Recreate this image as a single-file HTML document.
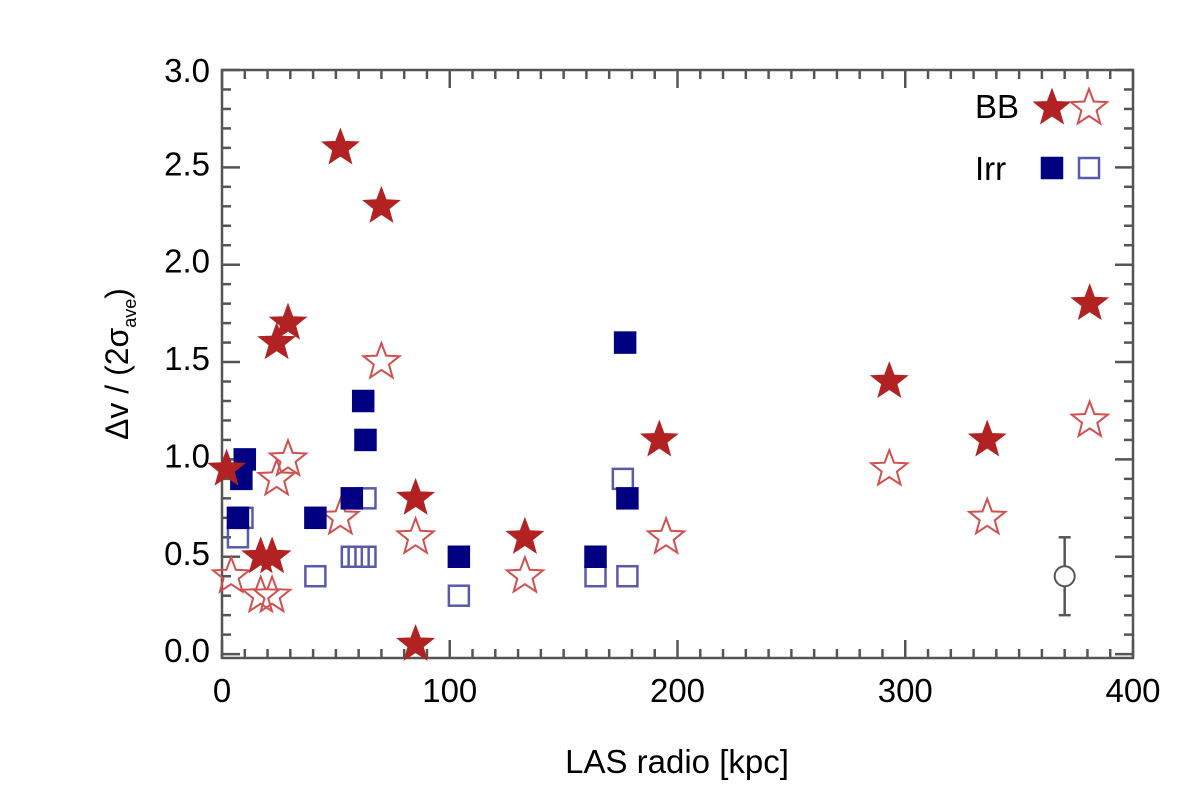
<!DOCTYPE html>
<html><head><meta charset="utf-8"><style>
body{margin:0;background:#fff}
svg text{font-family:"Liberation Sans",sans-serif;fill:#000}
</style></head><body>
<svg id="chart" width="1200" height="804" xmlns="http://www.w3.org/2000/svg">
<g id="axes"></g>
<g id="marks"></g>
<text x="677" y="773" font-size="33" text-anchor="middle">LAS radio [kpc]</text>
<text transform="translate(128,364) rotate(-90)" font-size="32" text-anchor="middle">Δv / (2σ<tspan font-size="18" dy="8">ave</tspan><tspan dy="-8">)</tspan></text>
<g>
<text x="975" y="118" font-size="33">BB</text>
<text x="975" y="180" font-size="33">Irr</text>
</g>
</svg>
<script>
const bbFilledX=[52,70,24,29,2,17,22,85,85,133,192,293,336,381];
const bbFilledY=[2.6,2.3,1.6,1.7,0.95,0.5,0.5,0.8,0.05,0.6,1.1,1.4,1.1,1.8];
const bbOpenX=[70,29,24,4,17,22,52,85,133,195,293,336,381];
const bbOpenY=[1.5,1.0,0.9,0.4,0.3,0.3,0.7,0.6,0.4,0.6,0.95,0.7,1.2];
const irrFilledX=[10,8.5,7,41,57,62,63,104,164,177,178];
const irrFilledY=[1.0,0.9,0.7,0.7,0.8,1.3,1.1,0.5,0.5,1.6,0.8];
const irrOpenX=[9,7,41,57,60,63,63,104,164,176,178];
const irrOpenY=[0.7,0.6,0.4,0.5,0.5,0.5,0.8,0.3,0.4,0.9,0.4];
const errX=[370];const errY=[0.4];const errLo=[0.2];const errHi=[0.6];
const xTicks=[0,100,200,300,400];
const yTicks=[0,0.5,1,1.5,2,2.5,3];
const yTickLabels=["0.0","0.5","1.0","1.5","2.0","2.5","3.0"];

const L=222,R=1133,T=70,B=658,xMin=0,xMax=400,yMin=-0.02,yMax=3.0;
const sx=v=>L+(v-xMin)/(xMax-xMin)*(R-L);
const sy=v=>B-(v-yMin)/(yMax-yMin)*(B-T);
const NS="http://www.w3.org/2000/svg";
function mk(tag,attrs,parent){const e=document.createElementNS(NS,tag);for(const k in attrs)e.setAttribute(k,attrs[k]);parent.appendChild(e);return e;}
const axes=document.getElementById('axes'),marks=document.getElementById('marks');
const frame=mk('rect',{x:L,y:T,width:R-L,height:B-T,fill:'none',stroke:'#555','stroke-width':2.5},axes);


for(let v=0;v<=400;v+=10){const maj=v%100===0,len=maj?18:9,x=sx(v);
 mk('line',{x1:x,y1:B,x2:x,y2:B-len,stroke:'#555','stroke-width':2.5},axes);
 mk('line',{x1:x,y1:T,x2:x,y2:T+len,stroke:'#555','stroke-width':2.5},axes);}
for(let i=0;i<=30;i++){const v=i/10,maj=i%5===0,len=maj?18:9,y=sy(v);
 mk('line',{x1:L,y1:y,x2:L+len,y2:y,stroke:'#555','stroke-width':2.5},axes);
 mk('line',{x1:R,y1:y,x2:R-len,y2:y,stroke:'#555','stroke-width':2.5},axes);}
xTicks.forEach(v=>{const t=mk('text',{x:sx(v),y:B+44,'font-size':33,'text-anchor':'middle'},axes);t.textContent=v;
 
 });
yTicks.forEach((v,i)=>{const t=mk('text',{x:L-12,y:sy(v)+8+(v===3?4:0),'font-size':33,'text-anchor':'end'},axes);t.textContent=yTickLabels[i];
 
 });
function starPts(cx,cy,r){let p=[];for(let k=0;k<10;k++){const a=-Math.PI/2+k*Math.PI/5,rr=k%2?r*0.42:r;p.push((cx+rr*Math.cos(a)).toFixed(1)+','+(cy+rr*Math.sin(a)).toFixed(1));}return p.join(' ');}
function star(cx,cy,filled,name){const s=mk('polygon',{points:starPts(cx,cy,19),fill:filled?'#b22222':'none',stroke:filled?'#b22222':'#d05050','stroke-width':filled?1:2},marks);
 
 }
function sq(cx,cy,filled,name){const s=mk('rect',{x:cx-10,y:cy-10,width:20,height:20,fill:filled?'#000080':'none',stroke:filled?'#000080':'#5a5aaa','stroke-width':2.5},marks);
 
 }
bbOpenX.forEach((x,i)=>star(sx(x),sy(bbOpenY[i]),false,'bb-open-star'));
irrOpenX.forEach((x,i)=>sq(sx(x),sy(irrOpenY[i]),false,'irr-open-square'));
irrFilledX.forEach((x,i)=>sq(sx(x),sy(irrFilledY[i]),true,'irr-filled-square'));
bbFilledX.forEach((x,i)=>star(sx(x),sy(bbFilledY[i]),true,'bb-filled-star'));
errX.forEach((x,i)=>{const g=mk('g',{},marks);
 
 
 mk('line',{x1:sx(x),y1:sy(errLo[i]),x2:sx(x),y2:sy(errHi[i]),stroke:'#555','stroke-width':2.5},g);
 mk('line',{x1:sx(x)-6,y1:sy(errLo[i]),x2:sx(x)+6,y2:sy(errLo[i]),stroke:'#555','stroke-width':2.5},g);
 mk('line',{x1:sx(x)-6,y1:sy(errHi[i]),x2:sx(x)+6,y2:sy(errHi[i]),stroke:'#555','stroke-width':2.5},g);
 mk('circle',{cx:sx(x),cy:sy(errY[i]),r:10,fill:'#fff',stroke:'#555','stroke-width':2},g);});
star(1052,108,true,'legend-bb-filled');star(1089,108,false,'legend-bb-open');
sq(1052,168,true,'legend-irr-filled');sq(1089,168,false,'legend-irr-open');
</script>
</body></html>
